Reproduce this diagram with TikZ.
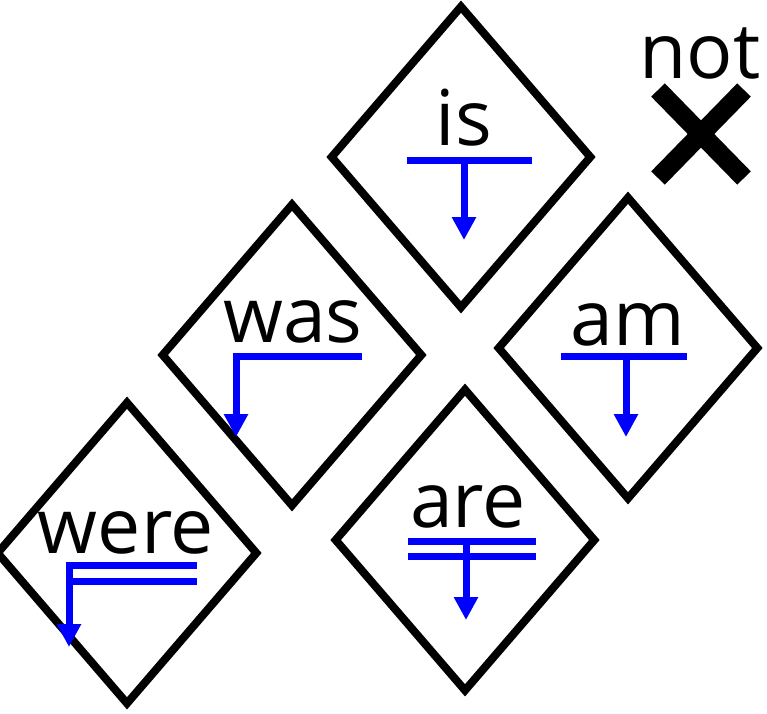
\documentclass[tikz,border=0pt]{standalone}
\usepackage{fontspec}
\setmainfont{Open Sans}
\usetikzlibrary{shapes.geometric,arrows.meta,calc}
\tikzset{
  dia/.style={diamond, draw, line width=8pt, minimum width=262pt, minimum height=304pt, inner sep=0pt},
  word/.style={anchor=base, inner sep=0pt, font=\fontsize{77}{90}\selectfont},
  bluebar/.style={draw=blue, line width=7pt},
  bluearr/.style={bluebar, -{Triangle[length=23pt,width=23pt]}},
  crossbar/.style={draw=black, line width=19pt}
}
\begin{document}
\begin{tikzpicture}[x=1pt,y=-1pt]
\useasboundingbox (0,0) rectangle (767,713);
% diamonds
\node[dia] (dis) at (461,157) {};
\node[dia] (dwas) at (292,355) {};
\node[dia] (dam) at (628,348) {};
\node[dia] (dare) at (465,540) {};
\node[dia] (dwere) at (127,553) {};
% words
\node[word] (tis) at (464,145) {is};
\node[word] (twas) at (293,342) {was};
\node[word] (tam) at (628,345) {am};
\node[word] (tare) at (468,527) {are};
\node[word] (twere) at (126,553) {were};
\node[word] (tnot) at (700,78) {not};
% is
\draw[bluebar] ($(dis)+(-54,3)$) -- ($(dis)+(71,3)$);
\draw[bluearr] ($(dis)+(3,3)$) -- ($(dis)+(3,83)$);
% was
\draw[bluearr] ($(dwas)+(70,1)$) -- ($(dwas)+(-56,1)$) -- ($(dwas)+(-56,82)$);
% am
\draw[bluebar] ($(dam)+(-67,8)$) -- ($(dam)+(59,8)$);
\draw[bluearr] ($(dam)+(-2,8)$) -- ($(dam)+(-2,89)$);
% are
\draw[bluebar] ($(dare)+(-57,1)$) -- ($(dare)+(71,1)$);
\draw[bluebar] ($(dare)+(-57,16)$) -- ($(dare)+(71,16)$);
\draw[bluearr] ($(dare)+(1,1)$) -- ($(dare)+(1,80)$);
% were
\draw[bluearr] ($(dwere)+(70,12)$) -- ($(dwere)+(-58,12)$) -- ($(dwere)+(-58,94)$);
\draw[bluebar] ($(dwere)+(70,28)$) -- ($(dwere)+(-58,28)$);
% not cross
\coordinate (xc) at (701,134);
\draw[crossbar] ($(xc)+(-43,-44)$) -- ($(xc)+(43,44)$);
\draw[crossbar] ($(xc)+(43,-44)$) -- ($(xc)+(-43,44)$);
\end{tikzpicture}
\end{document}
